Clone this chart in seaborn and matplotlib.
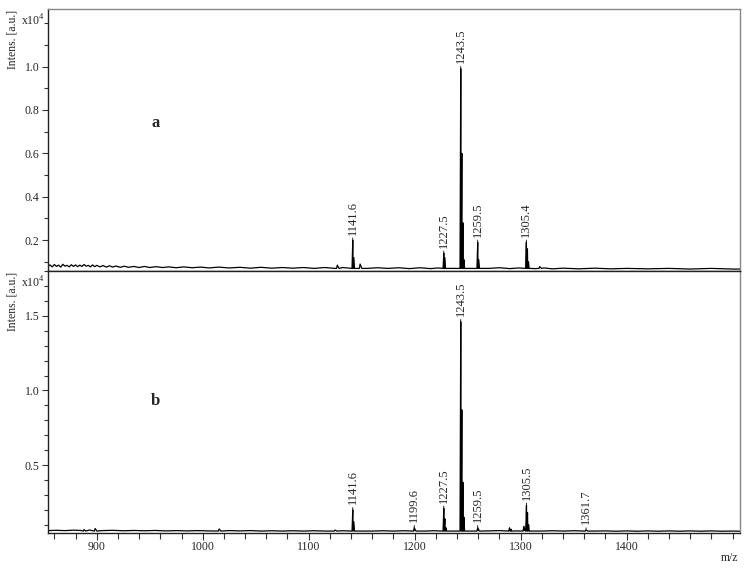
import numpy as np
import pandas as pd
import matplotlib
matplotlib.use("Agg")
import matplotlib.pyplot as plt
from matplotlib.ticker import MultipleLocator, FormatStrFormatter
import seaborn as sns

sns.set_theme(style="ticks")
plt.rcParams['font.family'] = ['Liberation Serif', 'DejaVu Serif']
plt.rcParams['mathtext.fontset'] = 'custom'
plt.rcParams['mathtext.rm'] = 'Liberation Serif'

# ===================== data (intensity in units of 1e4) =====================
# spectrum a: baseline (noise) points
A_BASE_MZ = [854, 856, 858, 860, 862, 864, 866, 868, 870, 872, 874, 876, 878, 880, 882, 884, 886, 888,
             890, 892, 894, 896, 898, 900, 903, 906, 909, 912, 915, 918, 922, 926, 930, 935, 940, 945,
             950, 956, 962, 968, 975, 982, 990, 998, 1006, 1015, 1025, 1035, 1045, 1055, 1065, 1075,
             1085, 1095, 1105, 1115, 1125, 1132, 1155, 1165, 1175, 1185, 1195, 1205, 1215, 1222,
             1270, 1280, 1290, 1298, 1314, 1322, 1330, 1340, 1355, 1370, 1385, 1400, 1420, 1440,
             1460, 1480, 1500, 1507]
A_BASE_I = [0.080, 0.086, 0.077, 0.088, 0.079, 0.085, 0.076, 0.089, 0.080, 0.084, 0.077, 0.087, 0.079, 0.086,
            0.078, 0.085, 0.079, 0.088, 0.080, 0.084, 0.077, 0.086, 0.078, 0.084, 0.077, 0.083, 0.076, 0.082,
            0.076, 0.081, 0.075, 0.080, 0.075, 0.079, 0.074, 0.079, 0.074, 0.078, 0.074, 0.077, 0.073, 0.077,
            0.073, 0.076, 0.072, 0.076, 0.072, 0.075, 0.071, 0.075, 0.071, 0.074, 0.071, 0.074, 0.070, 0.074,
            0.070, 0.074, 0.070, 0.073, 0.070, 0.073, 0.069, 0.073, 0.069, 0.072, 0.070, 0.073, 0.069, 0.072,
            0.069, 0.072, 0.068, 0.071, 0.068, 0.071, 0.068, 0.070, 0.068, 0.070, 0.067, 0.070, 0.067, 0.067]
# spectrum a: peaks (incl. isotopes / small peaks)
A_PEAK_MZ = [1127.0, 1141.6, 1142.6, 1148.5, 1227.5, 1228.5, 1243.5, 1244.5, 1245.5, 1246.5,
             1259.5, 1260.5, 1305.4, 1306.4, 1307.4, 1318.0]
A_PEAK_I = [0.085, 0.20, 0.12, 0.09, 0.14, 0.12, 0.99, 0.60, 0.28, 0.11,
            0.19, 0.11, 0.19, 0.16, 0.10, 0.078]
A_LABEL_MZ = [1141.6, 1227.5, 1243.5, 1259.5, 1305.4]
A_LABEL_I = [0.20, 0.14, 0.99, 0.19, 0.19]
A_LABELS = ['1141.6', '1227.5', '1243.5', '1259.5', '1305.4']

# spectrum b
B_BASE_MZ = [854, 862, 870, 878, 885, 893, 905, 915, 925, 935, 945, 955, 965, 975, 985, 995, 1005,
             1025, 1035, 1045, 1055, 1065, 1075, 1085, 1095, 1105, 1115, 1132, 1160, 1170, 1180,
             1190, 1210, 1218, 1270, 1280, 1296, 1320, 1330, 1340, 1350, 1370, 1380, 1390, 1400,
             1410, 1420, 1430, 1440, 1450, 1460, 1470, 1480, 1490, 1500, 1507]
B_BASE_I = [0.061, 0.063, 0.061, 0.064, 0.062, 0.065, 0.061, 0.063, 0.060, 0.062, 0.060, 0.062, 0.059, 0.061,
            0.059, 0.061, 0.059, 0.061, 0.059, 0.061, 0.058, 0.060, 0.058, 0.060, 0.058, 0.060, 0.058, 0.060,
            0.058, 0.060, 0.058, 0.060, 0.058, 0.060, 0.059, 0.061, 0.059, 0.058, 0.060, 0.058, 0.060, 0.058,
            0.059, 0.057, 0.059, 0.057, 0.059, 0.057, 0.059, 0.057, 0.059, 0.057, 0.059, 0.057, 0.058, 0.057]
B_PEAK_MZ = [888.0, 898.5, 1015.5, 1125.0, 1141.6, 1142.6, 1199.6, 1227.5, 1228.5, 1229.5,
             1243.5, 1244.5, 1245.5, 1246.5, 1259.5, 1289.5, 1291.0, 1303.0, 1305.5, 1306.5, 1307.5, 1361.7]
B_PEAK_I = [0.068, 0.075, 0.072, 0.065, 0.20, 0.12, 0.08, 0.21, 0.14, 0.08,
            1.46, 0.87, 0.385, 0.15, 0.08, 0.08, 0.07, 0.09, 0.23, 0.18, 0.10, 0.065]
B_LABEL_MZ = [1141.6, 1199.6, 1227.5, 1243.5, 1259.5, 1305.5, 1361.7]
B_LABEL_I = [0.20, 0.08, 0.21, 1.46, 0.08, 0.23, 0.065]
B_LABELS = ['1141.6', '1199.6', '1227.5', '1243.5', '1259.5', '1305.5', '1361.7']

X_RANGE = (854, 1507)
A_YRANGE = (0.058, 1.265)
B_YRANGE = (0.045, 1.80)


def build_profile(base_mz, base_i, peak_mz, peak_i, foot):
    mz = list(base_mz)
    it = list(base_i)
    for m, h in zip(peak_mz, peak_i):
        mz += [m - 0.7, m, m + 1.6]
        it += [foot, h, foot]
    return pd.DataFrame({'mz': mz, 'intens': it}).sort_values('mz', kind='stable')


df_a = build_profile(A_BASE_MZ, A_BASE_I, A_PEAK_MZ, A_PEAK_I, 0.070)
df_b = build_profile(B_BASE_MZ, B_BASE_I, B_PEAK_MZ, B_PEAK_I, 0.058)

fig = plt.figure(figsize=(7.53, 5.68), dpi=100)
ax_a = fig.add_axes([48 / 753, 1 - 271 / 568, 692 / 753, 262 / 568])
ax_b = fig.add_axes([48 / 753, 1 - 533 / 568, 692 / 753, 262 / 568], sharex=ax_a)

panels = [
    (ax_a, df_a, 0.070, A_YRANGE, A_LABEL_MZ, A_LABEL_I, A_LABELS, 'a', 0.2, 0.1, 0.565),
    (ax_b, df_b, 0.058, B_YRANGE, B_LABEL_MZ, B_LABEL_I, B_LABELS, 'b', 0.5, 0.1, 0.505),
]

for ax, df, foot, yr, lmz, li, labs, tag, major, minor, tag_y in panels:
    sns.lineplot(data=df, x='mz', y='intens', ax=ax, color='black', linewidth=0.9,
                 estimator=None, sort=False)
    # peaks look filled in the original profile
    ax.fill_between(df['mz'], foot, df['intens'], where=df['intens'] > foot + 0.02,
                    color='black', linewidth=0, interpolate=True)
    ax.set_xlim(*X_RANGE)
    ax.set_ylim(*yr)
    ax.set_xlabel('')
    ax.set_ylabel('')
    ax.yaxis.set_major_locator(MultipleLocator(major))
    ax.yaxis.set_minor_locator(MultipleLocator(minor))
    ax.set_yticks([t for t in ax.get_yticks() if yr[0] < t < yr[1] - 0.15 and t > 0.01])
    ax.yaxis.set_major_formatter(FormatStrFormatter('%.1f'))
    ax.tick_params(axis='y', which='major', length=4, width=0.8, labelsize=8.5, pad=2, color='#333333')
    ax.tick_params(axis='y', which='minor', length=3, width=0.8, color='#333333')
    for s in ['left', 'bottom']:
        ax.spines[s].set_color('#222222')
        ax.spines[s].set_linewidth(1.0)
    for s in ['top', 'right']:
        ax.spines[s].set_color('#888888')
        ax.spines[s].set_linewidth(1.0)

    for m, h, t in zip(lmz, li, labs):
        ax.annotate(t, xy=(m, h), xytext=(0, 4), textcoords='offset points',
                    rotation=90, ha='center', va='bottom', fontsize=9,
                    arrowprops=dict(arrowstyle='-', lw=0.6, color='black', shrinkA=0, shrinkB=0))

    ax.text(0.155, tag_y, tag, transform=ax.transAxes, fontsize=12, fontweight='bold',
            ha='center', va='center')
    ax.text(-0.004, 0.985, r'x10$^{4}$', transform=ax.transAxes, ha='right', va='top', fontsize=8.5)
    ax.text(-0.051, 0.995, 'Intens. [a.u.]', transform=ax.transAxes, rotation=90,
            ha='center', va='top', fontsize=8.5)

ax_b.spines['top'].set_color('#222222')
ax_a.tick_params(axis='x', which='both', bottom=False, labelbottom=False)
ax_b.xaxis.set_minor_locator(MultipleLocator(20))
ax_b.set_xticks([900, 1000, 1100, 1200, 1300, 1400])
ax_b.tick_params(axis='x', which='major', length=5, width=0.8, labelsize=8.5, pad=1, color='#333333')
ax_b.tick_params(axis='x', which='minor', length=4, width=0.8, color='#333333')

fig.text(730 / 753, 1 - 558 / 568, 'm/z', ha='center', va='center', fontsize=8.5)

fig.savefig('out.png', dpi=100)
